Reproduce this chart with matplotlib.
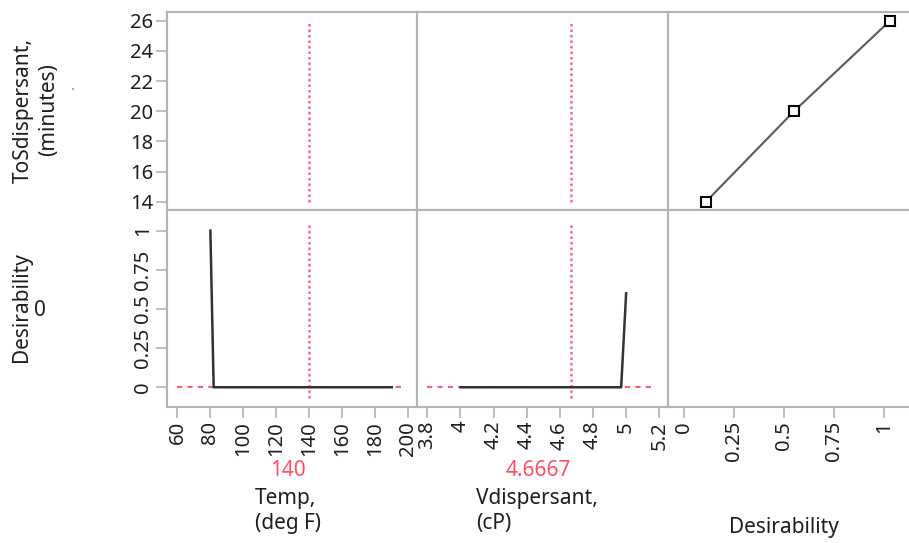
import matplotlib
matplotlib.use("Agg")
import matplotlib.pyplot as plt

plt.rcParams['font.family'] = ['Noto Sans', 'DejaVu Sans']

# ---- data ----
temp_x = [80, 82, 190]
temp_desir = [1.0, 0.0, 0.0]
visc_x = [4.0, 4.97, 5.0]
visc_desir = [0.0, 0.0, 0.6]
tos_values = [14, 20, 26]
tos_desir = [0.11, 0.55, 1.03]
temp_current = 140
visc_current = 4.6667
temp_ticks = [60, 80, 100, 120, 140, 160, 180, 200]
visc_ticks = [3.8, 4.0, 4.2, 4.4, 4.6, 4.8, 5.0, 5.2]
visc_ticklabels = ["3.8", "4", "4.2", "4.4", "4.6", "4.8", "5", "5.2"]
desir_ticks = [0, 0.25, 0.5, 0.75, 1]
desir_ticklabels = ["0", "0.25", "0.5", "0.75", "1"]
tos_ticks = [14, 16, 18, 20, 22, 24, 26]

W, H = 909, 543
fig = plt.figure(figsize=(W / 100, H / 100), dpi=100)

def rect(x0, y0, x1, y1):
    return [x0 / W, 1 - y1 / H, (x1 - x0) / W, (y1 - y0) / H]

cols = [(167, 417), (417, 668), (668, 909)]
rows = [(12, 210), (210, 407)]
xlims = [(53.7, 205.3), (3.7376, 5.2527), (-0.08, 1.125)]
ylims = [(13.45, 26.58), (-0.126, 1.132)]

spine_c = '#b4b4b4'
red = '#ff4d6a'
FS = 14.5
LFS = 15
txt_c = '#1e1e1e'

axes = {}
for r, (y0, y1) in enumerate(rows):
    for c, (x0, x1) in enumerate(cols):
        ax = fig.add_axes(rect(x0, y0, x1, y1))
        ax.set_xlim(*xlims[c])
        ax.set_ylim(*ylims[r])
        for s in ax.spines.values():
            s.set_color(spine_c)
            s.set_linewidth(1.5)
        if c == 2:
            ax.spines['right'].set_visible(False)
        ax.tick_params(colors=spine_c, labelcolor=txt_c, length=8, width=1.2,
                       labelsize=FS, pad=2)
        if r == 1:
            if c == 0:
                ax.set_xticks(temp_ticks)
                ax.set_xticklabels([str(t) for t in temp_ticks], rotation=90)
            elif c == 1:
                ax.set_xticks(visc_ticks)
                ax.set_xticklabels(visc_ticklabels, rotation=90)
            else:
                ax.set_xticks(desir_ticks)
                ax.set_xticklabels(desir_ticklabels, rotation=90)
        else:
            ax.set_xticks([])
        if c == 0:
            if r == 0:
                ax.set_yticks(tos_ticks)
            else:
                ax.set_yticks(desir_ticks)
                ax.set_yticklabels(desir_ticklabels, rotation=90, va='center')
        else:
            ax.set_yticks([])
        axes[(r, c)] = ax

dot_ls = (0, (1, 1.2))

# top row: current-value reference lines
for c, cur in [(0, temp_current), (1, visc_current)]:
    ax = axes[(0, c)]
    ax.plot([cur, cur], [14, 26], color=red, ls=dot_ls, lw=1.8, alpha=0.85)

# bottom row: desirability profiles
axb0 = axes[(1, 0)]
axb0.plot([60, 198], [0, 0], color=red, ls=(0, (2.5, 2.5)), lw=1.5, alpha=0.9)
axb0.plot([temp_current, temp_current], [-0.07, 1.05], color=red, ls=dot_ls, lw=1.8, alpha=0.85)
axb0.plot(temp_x, temp_desir, color='#333333', lw=1.8)

axb1 = axes[(1, 1)]
axb1.plot([3.8, 5.18], [0, 0], color=red, ls=(0, (2.5, 2.5)), lw=1.5, alpha=0.9)
axb1.plot([visc_current, visc_current], [-0.07, 1.05], color=red, ls=dot_ls, lw=1.8, alpha=0.85)
axb1.plot(visc_x, visc_desir, color='#333333', lw=1.8)

# desirability function of response
axt2 = axes[(0, 2)]
axt2.plot(tos_desir, tos_values, color='#5a5a5a', lw=1.5, marker='s', ms=6.5,
          mfc='white', mec='black', mew=1.5)

# text labels
fig.text(36 / W, 1 - 110 / H, "ToSdispersant,\n(minutes)", rotation=90,
         ha='center', va='center', fontsize=LFS, color=txt_c, linespacing=1.25)
fig.text(73 / W, 1 - 86 / H, ".", color=red, fontsize=11, ha='center', va='center')
fig.text(22 / W, 1 - 307 / H, "Desirability", rotation=90, ha='center', va='center',
         fontsize=LFS, color=txt_c)
fig.text(40 / W, 1 - 310 / H, "0", ha='center', va='center', fontsize=LFS, color=txt_c)

fig.text(288 / W, 1 - 470 / H, "140", ha='center', va='center', fontsize=LFS, color=red)
fig.text(288 / W, 1 - 511 / H, "Temp,\n(deg F)", ha='center', va='center',
         multialignment='left', fontsize=LFS, color=txt_c, linespacing=1.3)
fig.text(538 / W, 1 - 470 / H, "4.6667", ha='center', va='center', fontsize=LFS, color=red)
fig.text(537 / W, 1 - 511 / H, "Vdispersant,\n(cP)", ha='center', va='center',
         multialignment='left', fontsize=LFS, color=txt_c, linespacing=1.3)
fig.text(784 / W, 1 - 527 / H, "Desirability", ha='center', va='center',
         fontsize=LFS, color=txt_c)

fig.savefig("out.png", dpi=100)
